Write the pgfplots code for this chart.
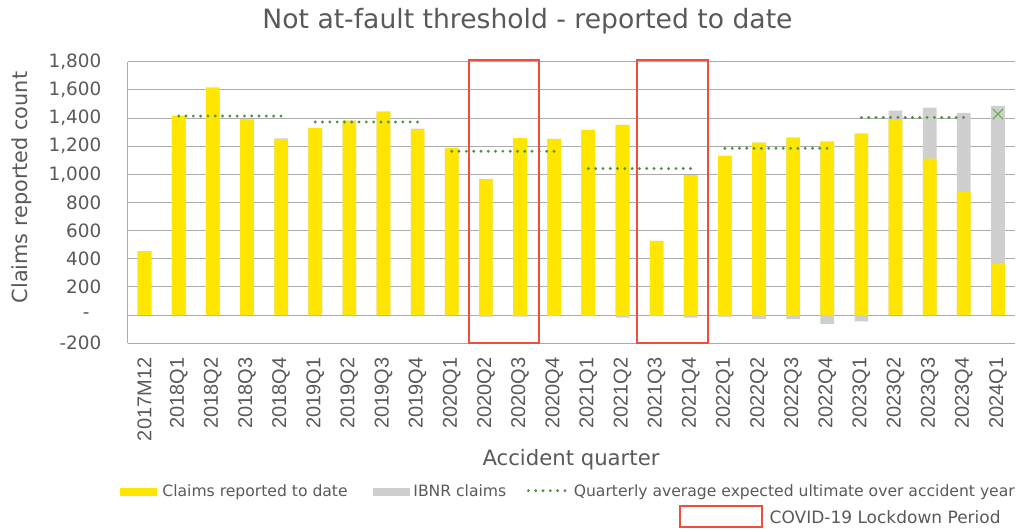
\documentclass[border=0pt]{standalone}
\usepackage{fontspec}
\setmainfont{DejaVu Sans}
\newfontfamily\arialf{Liberation Sans}
\usepackage{pgfplots}
\usepackage{pgfplotstable}
\pgfplotsset{compat=1.18}
\definecolor{eyyellow}{HTML}{FFE600}
\definecolor{ibnrgray}{HTML}{CFCFCF}
\definecolor{txtgray}{HTML}{595959}
\definecolor{gridgray}{HTML}{ABABAB}
\definecolor{dotgreen}{HTML}{4F9140}
\definecolor{xgreen}{HTML}{70AD47}
\definecolor{covidred}{HTML}{EF4E3E}

\pgfplotstableread{
idx rep ibnr
0 455 0
1 1415 0
2 1615 0
3 1390 0
4 1250 6
5 1330 0
6 1382 0
7 1445 0
8 1320 4
9 1188 0
10 966 -10
11 1258 -10
12 1251 -5
13 1315 -5
14 1352 -17
15 528 -5
16 994 -17
17 1131 -10
18 1225 -28
19 1261 -28
20 1232 -62
21 1289 -45
22 1386 66
23 1112 361
24 874 563
25 363 1124
}\datatable

\begin{document}
\begin{tikzpicture}
\useasboundingbox (0,0) rectangle (511pt,-264.5pt);
\begin{axis}[
  at={(63.75pt,-171.65pt)}, anchor=south west,
  scale only axis, width=443.75pt, height=140.8pt,
  xmin=-0.5, xmax=25.5, ymin=-200, ymax=1800,
  clip=false,
  axis line style={draw=none},
  major tick length=0pt,
  ymajorgrids, grid style={gridgray, line width=0.5pt},
  ytick={-200,0,200,400,600,800,1000,1200,1400,1600,1800},
  yticklabels={-200,{-\hphantom{0}},200,400,600,800,{1,000},{1,200},{1,400},{1,600},{1,800}},
  yticklabel style={font=\fontsize{9.2}{10}\selectfont, text=txtgray, inner sep=0pt},
  yticklabel shift=12.9pt,
  xtick={0,1,2,3,4,5,6,7,8,9,10,11,12,13,14,15,16,17,18,19,20,21,22,23,24,25},
  xticklabels={2017M12,2018Q1,2018Q2,2018Q3,2018Q4,2019Q1,2019Q2,2019Q3,2019Q4,2020Q1,2020Q2,2020Q3,2020Q4,2021Q1,2021Q2,2021Q3,2021Q4,2022Q1,2022Q2,2022Q3,2022Q4,2023Q1,2023Q2,2023Q3,2023Q4,2024Q1},
  xticklabel style={font=\arialf\fontsize{10}{12}\selectfont, text=txtgray, rotate=90, anchor=east, inner sep=0pt},
  xticklabel shift=7pt,
]
\draw[gridgray, line width=0.5pt] (rel axis cs:0,0) -- (rel axis cs:0,1);
\addplot[ybar, bar width=0.4, bar shift=0pt, fill=ibnrgray, draw=none] table[x=idx, y expr={\thisrow{rep}+max(\thisrow{ibnr},0)}] {\datatable};
\addplot[ybar, bar width=0.4, bar shift=0pt, fill=ibnrgray, draw=none] table[x=idx, y expr={min(\thisrow{ibnr},0)}] {\datatable};
\addplot[ybar, bar width=0.4, bar shift=0pt, fill=eyyellow, draw=none] table[x=idx, y=rep] {\datatable};
\addplot[dotgreen, line width=1.6pt, line cap=round, dash pattern=on 0pt off 3.65pt] coordinates {(1,1414) (4,1414)};
\addplot[dotgreen, line width=1.6pt, line cap=round, dash pattern=on 0pt off 3.65pt] coordinates {(5,1372) (8,1372)};
\addplot[dotgreen, line width=1.6pt, line cap=round, dash pattern=on 0pt off 3.65pt] coordinates {(9,1164) (12,1164)};
\addplot[dotgreen, line width=1.6pt, line cap=round, dash pattern=on 0pt off 3.65pt] coordinates {(13,1041) (16,1041)};
\addplot[dotgreen, line width=1.6pt, line cap=round, dash pattern=on 0pt off 3.65pt] coordinates {(17,1185) (20,1185)};
\addplot[dotgreen, line width=1.6pt, line cap=round, dash pattern=on 0pt off 3.65pt] coordinates {(21,1404) (24,1404)};
\addplot[only marks, mark=x, mark size=3.6pt, xgreen, mark options={line width=0.6pt}] coordinates {(25,1428)};
\draw[covidred, line width=1pt] (axis cs:9.505,1812) rectangle (axis cs:11.557,-200);
\draw[covidred, line width=1pt] (axis cs:14.44,1812) rectangle (axis cs:16.5,-200);
\end{axis}
% title and axis labels
\node[anchor=base, text=txtgray, font=\fontsize{13.3}{15}\selectfont, inner sep=0pt] at (263.75pt,-14.15pt) {Not at-fault threshold - reported to date};
\node[rotate=90, text=txtgray, font=\fontsize{10.4}{12}\selectfont, inner sep=0pt] at (11pt,-93.75pt) {Claims reported count};
\node[anchor=base, text=txtgray, font=\fontsize{10.6}{12}\selectfont, inner sep=0pt] at (285.5pt,-232.5pt) {Accident quarter};
% legend
\fill[eyyellow] (60pt,-244.15pt) rectangle (78.35pt,-247.85pt);
\node[anchor=base west, text=txtgray, font=\fontsize{7.8}{10}\selectfont, inner sep=0pt] at (81pt,-248.35pt) {Claims reported to date};
\fill[ibnrgray] (186.65pt,-244.15pt) rectangle (205pt,-247.85pt);
\node[anchor=base west, text=txtgray, font=\fontsize{7.8}{10}\selectfont, inner sep=0pt] at (206.5pt,-248.35pt) {IBNR claims};
\draw[dotgreen, line width=1.6pt, line cap=round, dash pattern=on 0pt off 3.65pt] (264.2pt,-245.35pt) -- (282.5pt,-245.35pt);
\node[anchor=base west, text=txtgray, font=\fontsize{7.8}{10}\selectfont, inner sep=0pt] at (286.7pt,-248.35pt) {Quarterly average expected ultimate over accident year};
\draw[covidred, line width=1pt] (340pt,-253pt) rectangle (381.15pt,-263.65pt);
\node[anchor=base west, text=txtgray, font=\fontsize{8.5}{10}\selectfont, inner sep=0pt] at (384.65pt,-261.65pt) {COVID-19 Lockdown Period};
\end{tikzpicture}
\end{document}
